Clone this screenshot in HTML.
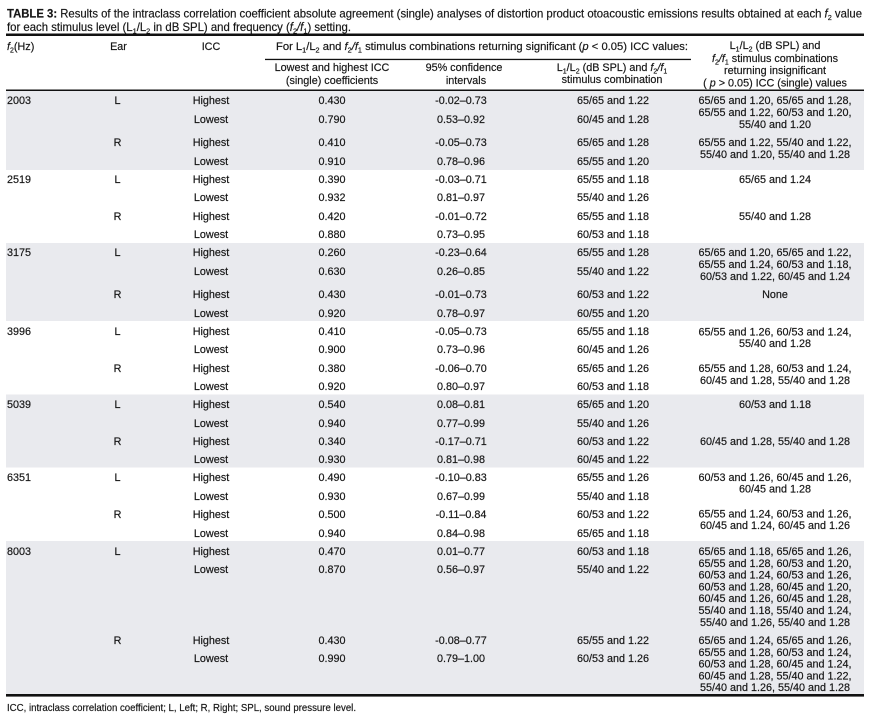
<!DOCTYPE html>
<html>
<head>
<meta charset="utf-8">
<style>
html,body{margin:0;padding:0;background:#fff;}
svg{display:block;}
text{font-family:"Liberation Sans",Arial,sans-serif;fill:#161616;stroke:#161616;stroke-width:0.18px;}
.d{font-size:10.8px;}
.c{text-anchor:middle;}
</style>
</head>
<body>
<svg width="870" height="717" viewBox="0 0 870 717" xmlns="http://www.w3.org/2000/svg">
<rect x="0" y="0" width="870" height="717" fill="#fff"/>

<!-- bands -->
<rect x="6" y="91" width="858" height="79" fill="#e9eaee"/>
<rect x="6" y="243" width="858" height="78" fill="#e9eaee"/>
<rect x="6" y="394.5" width="858" height="73" fill="#e9eaee"/>
<rect x="6" y="541" width="858" height="153" fill="#e9eaee"/>

<!-- rules -->
<rect x="6" y="33.5" width="858" height="2.5" fill="#111"/>
<rect x="265" y="58.8" width="426" height="1.3" fill="#111"/>
<rect x="6" y="89.5" width="858" height="1.5" fill="#111"/>
<rect x="6" y="694" width="858" height="2.6" fill="#111"/>

<!-- caption -->
<text x="7" y="17.5" font-size="11.6" textLength="855" lengthAdjust="spacingAndGlyphs"><tspan font-weight="bold">TABLE 3:</tspan>&#160;Results of the intraclass correlation coefficient absolute agreement (single) analyses of distortion product otoacoustic emissions results obtained at each <tspan font-style="italic">f</tspan><tspan dy="2.5" font-size="7.5">2</tspan><tspan dy="-2.5"> value</tspan></text>
<text x="7" y="31" font-size="11.6" textLength="344" lengthAdjust="spacingAndGlyphs">for each stimulus level (L<tspan dy="2.5" font-size="7.5">1</tspan><tspan dy="-2.5">/L</tspan><tspan dy="2.5" font-size="7.5">2</tspan><tspan dy="-2.5"> in dB SPL) and frequency (</tspan><tspan font-style="italic">f</tspan><tspan dy="2.5" font-size="7.5">2</tspan><tspan dy="-2.5" font-style="italic">/f</tspan><tspan dy="2.5" font-size="7.5">1</tspan><tspan dy="-2.5">) setting.</tspan></text>

<!-- header row 1 -->
<text class="d" x="7" y="50"><tspan font-style="italic">f</tspan><tspan dy="2.5" font-size="7">2</tspan><tspan dy="-2.5">(Hz)</tspan></text>
<text class="d c" x="118.5" y="50">Ear</text>
<text class="d c" x="211" y="50">ICC</text>
<text class="d" x="276" y="50" textLength="412" lengthAdjust="spacingAndGlyphs">For L<tspan dy="2.5" font-size="7">1</tspan><tspan dy="-2.5">/L</tspan><tspan dy="2.5" font-size="7">2</tspan><tspan dy="-2.5"> and </tspan><tspan font-style="italic">f</tspan><tspan dy="2.5" font-size="7">2</tspan><tspan dy="-2.5" font-style="italic">/f</tspan><tspan dy="2.5" font-size="7">1</tspan><tspan dy="-2.5"> stimulus combinations returning significant (</tspan><tspan font-style="italic">p</tspan> &lt; 0.05) ICC values:</text>

<!-- last column header -->
<text class="d c" x="775" y="49">L<tspan dy="2.5" font-size="7">1</tspan><tspan dy="-2.5">/L</tspan><tspan dy="2.5" font-size="7">2</tspan><tspan dy="-2.5"> (dB SPL) and</tspan></text>
<text class="d c" x="775" y="62"><tspan font-style="italic">f</tspan><tspan dy="2.5" font-size="7">2</tspan><tspan dy="-2.5" font-style="italic">/f</tspan><tspan dy="2.5" font-size="7">1</tspan><tspan dy="-2.5"> stimulus combinations</tspan></text>
<text class="d c" x="775" y="74">returning insignificant</text>
<text class="d c" x="775" y="86.5">( <tspan font-style="italic">p</tspan> &gt; 0.05) ICC (single) values</text>

<!-- header row 2 -->
<text class="d c" x="332" y="71">Lowest and highest ICC</text>
<text class="d c" x="332" y="84">(single) coefficients</text>
<text class="d c" x="464" y="71">95% confidence</text>
<text class="d c" x="466" y="84">intervals</text>
<text class="d c" x="612" y="71">L<tspan dy="2.5" font-size="7">1</tspan><tspan dy="-2.5">/L</tspan><tspan dy="2.5" font-size="7">2</tspan><tspan dy="-2.5"> (dB SPL) and </tspan><tspan font-style="italic">f</tspan><tspan dy="2.5" font-size="7">2</tspan><tspan dy="-2.5" font-style="italic">/f</tspan><tspan dy="2.5" font-size="7">1</tspan></text>
<text class="d c" x="612" y="83">stimulus combination</text>

<!-- f2 values -->
<text class="d" x="7" y="104">2003</text>
<text class="d" x="7" y="183">2519</text>
<text class="d" x="7" y="256">3175</text>
<text class="d" x="7" y="335">3996</text>
<text class="d" x="7" y="408">5039</text>
<text class="d" x="7" y="481">6351</text>
<text class="d" x="7" y="555">8003</text>

<!-- Ear -->
<text class="d c" x="117.5" y="104">L</text>
<text class="d c" x="117.5" y="146">R</text>
<text class="d c" x="117.5" y="183">L</text>
<text class="d c" x="117.5" y="220">R</text>
<text class="d c" x="117.5" y="256">L</text>
<text class="d c" x="117.5" y="298">R</text>
<text class="d c" x="117.5" y="335">L</text>
<text class="d c" x="117.5" y="372">R</text>
<text class="d c" x="117.5" y="408">L</text>
<text class="d c" x="117.5" y="445">R</text>
<text class="d c" x="117.5" y="481">L</text>
<text class="d c" x="117.5" y="518">R</text>
<text class="d c" x="117.5" y="555">L</text>
<text class="d c" x="117.5" y="644">R</text>

<!-- ICC Highest/Lowest -->
<text class="d c" x="211" y="104">Highest</text><text class="d c" x="211" y="123">Lowest</text>
<text class="d c" x="211" y="146">Highest</text><text class="d c" x="211" y="165">Lowest</text>
<text class="d c" x="211" y="183">Highest</text><text class="d c" x="211" y="201">Lowest</text>
<text class="d c" x="211" y="220">Highest</text><text class="d c" x="211" y="238">Lowest</text>
<text class="d c" x="211" y="256">Highest</text><text class="d c" x="211" y="275">Lowest</text>
<text class="d c" x="211" y="298">Highest</text><text class="d c" x="211" y="317">Lowest</text>
<text class="d c" x="211" y="335">Highest</text><text class="d c" x="211" y="353">Lowest</text>
<text class="d c" x="211" y="372">Highest</text><text class="d c" x="211" y="390">Lowest</text>
<text class="d c" x="211" y="408">Highest</text><text class="d c" x="211" y="427">Lowest</text>
<text class="d c" x="211" y="445">Highest</text><text class="d c" x="211" y="463">Lowest</text>
<text class="d c" x="211" y="481">Highest</text><text class="d c" x="211" y="500">Lowest</text>
<text class="d c" x="211" y="518">Highest</text><text class="d c" x="211" y="537">Lowest</text>
<text class="d c" x="211" y="555">Highest</text><text class="d c" x="211" y="573">Lowest</text>
<text class="d c" x="211" y="644">Highest</text><text class="d c" x="211" y="662">Lowest</text>

<!-- coefficients -->
<text class="d c" x="332" y="104">0.430</text><text class="d c" x="332" y="123">0.790</text>
<text class="d c" x="332" y="146">0.410</text><text class="d c" x="332" y="165">0.910</text>
<text class="d c" x="332" y="183">0.390</text><text class="d c" x="332" y="201">0.932</text>
<text class="d c" x="332" y="220">0.420</text><text class="d c" x="332" y="238">0.880</text>
<text class="d c" x="332" y="256">0.260</text><text class="d c" x="332" y="275">0.630</text>
<text class="d c" x="332" y="298">0.430</text><text class="d c" x="332" y="317">0.920</text>
<text class="d c" x="332" y="335">0.410</text><text class="d c" x="332" y="353">0.900</text>
<text class="d c" x="332" y="372">0.380</text><text class="d c" x="332" y="390">0.920</text>
<text class="d c" x="332" y="408">0.540</text><text class="d c" x="332" y="427">0.940</text>
<text class="d c" x="332" y="445">0.340</text><text class="d c" x="332" y="463">0.930</text>
<text class="d c" x="332" y="481">0.490</text><text class="d c" x="332" y="500">0.930</text>
<text class="d c" x="332" y="518">0.500</text><text class="d c" x="332" y="537">0.940</text>
<text class="d c" x="332" y="555">0.470</text><text class="d c" x="332" y="573">0.870</text>
<text class="d c" x="332" y="644">0.430</text><text class="d c" x="332" y="662">0.990</text>

<!-- CI -->
<text class="d c" x="461" y="104">-0.02–0.73</text><text class="d c" x="461" y="123">0.53–0.92</text>
<text class="d c" x="461" y="146">-0.05–0.73</text><text class="d c" x="461" y="165">0.78–0.96</text>
<text class="d c" x="461" y="183">-0.03–0.71</text><text class="d c" x="461" y="201">0.81–0.97</text>
<text class="d c" x="461" y="220">-0.01–0.72</text><text class="d c" x="461" y="238">0.73–0.95</text>
<text class="d c" x="461" y="256">-0.23–0.64</text><text class="d c" x="461" y="275">0.26–0.85</text>
<text class="d c" x="461" y="298">-0.01–0.73</text><text class="d c" x="461" y="317">0.78–0.97</text>
<text class="d c" x="461" y="335">-0.05–0.73</text><text class="d c" x="461" y="353">0.73–0.96</text>
<text class="d c" x="461" y="372">-0.06–0.70</text><text class="d c" x="461" y="390">0.80–0.97</text>
<text class="d c" x="461" y="408">0.08–0.81</text><text class="d c" x="461" y="427">0.77–0.99</text>
<text class="d c" x="461" y="445">-0.17–0.71</text><text class="d c" x="461" y="463">0.81–0.98</text>
<text class="d c" x="461" y="481">-0.10–0.83</text><text class="d c" x="461" y="500">0.67–0.99</text>
<text class="d c" x="461" y="518">-0.11–0.84</text><text class="d c" x="461" y="537">0.84–0.98</text>
<text class="d c" x="461" y="555">0.01–0.77</text><text class="d c" x="461" y="573">0.56–0.97</text>
<text class="d c" x="461" y="644">-0.08–0.77</text><text class="d c" x="461" y="662">0.79–1.00</text>

<!-- stimulus combination -->
<text class="d c" x="613" y="104">65/65 and 1.22</text><text class="d c" x="613" y="123">60/45 and 1.28</text>
<text class="d c" x="613" y="146">65/65 and 1.28</text><text class="d c" x="613" y="165">65/55 and 1.20</text>
<text class="d c" x="613" y="183">65/55 and 1.18</text><text class="d c" x="613" y="201">55/40 and 1.26</text>
<text class="d c" x="613" y="220">65/55 and 1.18</text><text class="d c" x="613" y="238">60/53 and 1.18</text>
<text class="d c" x="613" y="256">65/55 and 1.28</text><text class="d c" x="613" y="275">55/40 and 1.22</text>
<text class="d c" x="613" y="298">60/53 and 1.22</text><text class="d c" x="613" y="317">60/55 and 1.20</text>
<text class="d c" x="613" y="335">65/55 and 1.18</text><text class="d c" x="613" y="353">60/45 and 1.26</text>
<text class="d c" x="613" y="372">65/65 and 1.26</text><text class="d c" x="613" y="390">60/53 and 1.18</text>
<text class="d c" x="613" y="408">65/65 and 1.20</text><text class="d c" x="613" y="427">55/40 and 1.26</text>
<text class="d c" x="613" y="445">60/53 and 1.22</text><text class="d c" x="613" y="463">60/45 and 1.22</text>
<text class="d c" x="613" y="481">65/55 and 1.26</text><text class="d c" x="613" y="500">55/40 and 1.18</text>
<text class="d c" x="613" y="518">60/53 and 1.22</text><text class="d c" x="613" y="537">65/65 and 1.18</text>
<text class="d c" x="613" y="555">60/53 and 1.18</text><text class="d c" x="613" y="573">55/40 and 1.22</text>
<text class="d c" x="613" y="644">65/55 and 1.22</text><text class="d c" x="613" y="662">60/53 and 1.26</text>

<!-- insignificant column -->
<text class="d c" x="775" y="104">65/65 and 1.20, 65/65 and 1.28,</text>
<text class="d c" x="775" y="116">65/55 and 1.22, 60/53 and 1.20,</text>
<text class="d c" x="775" y="128">55/40 and 1.20</text>
<text class="d c" x="775" y="146">65/55 and 1.22, 55/40 and 1.22,</text>
<text class="d c" x="775" y="158">55/40 and 1.20, 55/40 and 1.28</text>
<text class="d c" x="775" y="183">65/65 and 1.24</text>
<text class="d c" x="775" y="220">55/40 and 1.28</text>
<text class="d c" x="775" y="256">65/65 and 1.20, 65/65 and 1.22,</text>
<text class="d c" x="775" y="268">65/55 and 1.24, 60/53 and 1.18,</text>
<text class="d c" x="775" y="280">60/53 and 1.22, 60/45 and 1.24</text>
<text class="d c" x="775" y="298">None</text>
<text class="d c" x="775" y="335.5">65/55 and 1.26, 60/53 and 1.24,</text>
<text class="d c" x="775" y="347">55/40 and 1.28</text>
<text class="d c" x="775" y="372">65/55 and 1.28, 60/53 and 1.24,</text>
<text class="d c" x="775" y="384">60/45 and 1.28, 55/40 and 1.28</text>
<text class="d c" x="775" y="408">60/53 and 1.18</text>
<text class="d c" x="775" y="445">60/45 and 1.28, 55/40 and 1.28</text>
<text class="d c" x="775" y="481">60/53 and 1.26, 60/45 and 1.26,</text>
<text class="d c" x="775" y="492.5">60/45 and 1.28</text>
<text class="d c" x="775" y="517.5">65/55 and 1.24, 60/53 and 1.26,</text>
<text class="d c" x="775" y="529">60/45 and 1.24, 60/45 and 1.26</text>
<text class="d c" x="775" y="555">65/65 and 1.18, 65/65 and 1.26,</text>
<text class="d c" x="775" y="566.8">65/55 and 1.28, 60/53 and 1.20,</text>
<text class="d c" x="775" y="578.6">60/53 and 1.24, 60/53 and 1.26,</text>
<text class="d c" x="775" y="590.4">60/53 and 1.28, 60/45 and 1.20,</text>
<text class="d c" x="775" y="602.2">60/45 and 1.26, 60/45 and 1.28,</text>
<text class="d c" x="775" y="614">55/40 and 1.18, 55/40 and 1.24,</text>
<text class="d c" x="775" y="625.8">55/40 and 1.26, 55/40 and 1.28</text>
<text class="d c" x="775" y="644">65/65 and 1.24, 65/65 and 1.26,</text>
<text class="d c" x="775" y="655.8">65/55 and 1.28, 60/53 and 1.24,</text>
<text class="d c" x="775" y="667.6">60/53 and 1.28, 60/45 and 1.24,</text>
<text class="d c" x="775" y="679.4">60/45 and 1.28, 55/40 and 1.22,</text>
<text class="d c" x="775" y="691.2">55/40 and 1.26, 55/40 and 1.28</text>

<!-- footer -->
<text x="7" y="711" font-size="10.4" textLength="349" lengthAdjust="spacingAndGlyphs">ICC, intraclass correlation coefficient; L, Left; R, Right; SPL, sound pressure level.</text>
</svg>
</body>
</html>
